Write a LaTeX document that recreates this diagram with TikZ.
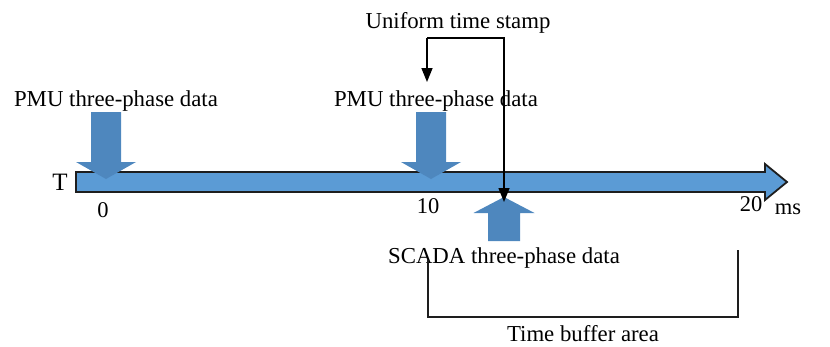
\documentclass[tikz,border=0pt]{standalone}
\usepackage{fontspec}
\setmainfont{Liberation Serif}
\usetikzlibrary{arrows.meta}
\definecolor{barblue}{RGB}{91,155,213}
\definecolor{blockblue}{RGB}{78,135,190}
\definecolor{edgegray}{RGB}{30,30,30}
\tikzset{
  lbl/.style={inner sep=0pt, anchor=base, font=\fontsize{22.8}{27}\selectfont},
  tick/.style={inner sep=0pt, anchor=base, font=\fontsize{22.5}{26}\selectfont},
  conn/.style={draw=black, line width=1.5pt},
  tipped/.style={conn, -{Triangle[length=14pt,width=11pt]}},
  bracket/.style={draw=edgegray, line width=1.5pt},
  % block arrow pointing down, origin at the tip
  downblock/.pic={\fill[blockblue] (-15,-67) -- (15,-67) -- (15,-17) -- (30,-17)
      -- (0,0) -- (-30,-17) -- (-15,-17) -- cycle;},
  % block arrow pointing up, origin at the tip
  upblock/.pic={\fill[blockblue] (-16,44) -- (16,44) -- (16,16) -- (30.5,16)
      -- (0,0) -- (-30.5,16) -- (-16,16) -- cycle;}
}
\begin{document}
\begin{tikzpicture}[x=1pt,y=-1pt]
\useasboundingbox (0,0) rectangle (830,346);

% time axis
\draw[fill=barblue, draw=edgegray, line width=1.8pt, line join=miter]
  (76,172) -- (765,172) -- (765,164) -- (787,182) -- (765,200) -- (765,192)
  -- (76,192) -- cycle;

% data arrows
\pic at (106,179) {downblock};
\pic at (431,179) {downblock};
\pic at (504,197) {upblock};

% labels
\node[lbl] (pmuA) at (116,106) {PMU three-phase data};
\node[lbl] (pmuB) at (436,106) {PMU three-phase data};
\node[lbl] (stamp) at (458,28) {Uniform time stamp};
\node[lbl] (scada) at (504,263) {SCADA three-phase data};
\node[lbl] (buffer) at (583,341) {Time buffer area};
\node[tick, font=\fontsize{25}{29}\selectfont] (tT) at (60,190) {T};
\node[tick] (t0) at (103,217) {0};
\node[tick] (t10) at (428,213) {10};
\node[tick] (t20) at (751,211) {20};
\node[tick] (tms) at (788,214) {ms};

% time stamp connector
\coordinate (stampL) at (427,38);
\coordinate (stampR) at (504,38);
\coordinate (pmuTip) at (427,82);
\coordinate (scadaTip) at (504,202);
\draw[tipped] (stampL) -- (pmuTip);
\draw[tipped] (stampL) -- (stampR) -- (scadaTip);

% time buffer bracket
\coordinate (bufL) at (428,260);
\coordinate (bufR) at (738,250);
\draw[bracket] (bufL) |- (bufR |- 0,317) -- (bufR);
\end{tikzpicture}
\end{document}
